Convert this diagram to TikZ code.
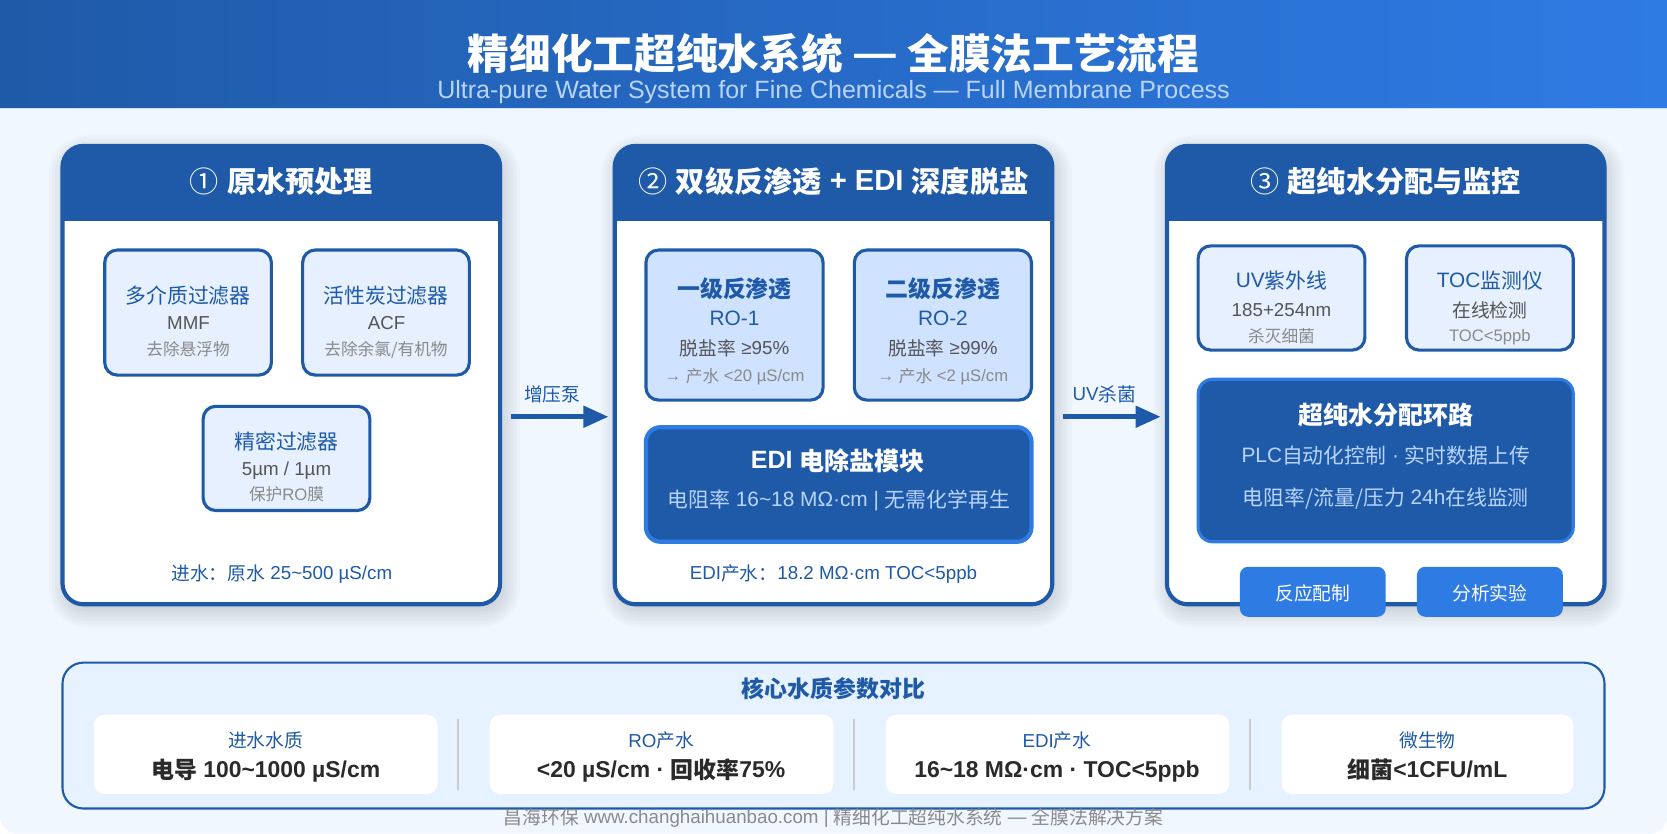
\documentclass[tikz,border=0pt]{standalone}
\usepackage{fontspec}
\setmainfont{Liberation Sans}
\newfontfamily\cjk{Noto Sans CJK SC}
\newcommand{\zh}[1]{\raisebox{-0.05em}{\cjk #1}}
\newcommand{\fs}[1]{\fontsize{#1}{#1}\selectfont}
\usetikzlibrary{arrows.meta}
\definecolor{navy}{HTML}{1F5AA8}
\definecolor{accent}{HTML}{2E7BE4}
\definecolor{pagebg}{HTML}{F0F7FF}
\definecolor{filterbg}{HTML}{E6F0FF}
\definecolor{robg}{HTML}{CFE2FF}
\definecolor{panelbg}{HTML}{E6F2FF}
\definecolor{pale}{HTML}{B8D4FF}
\definecolor{midtext}{HTML}{555555}
\definecolor{notetext}{HTML}{8A8A8A}
\definecolor{darktext}{HTML}{2A2A2A}
\tikzset{
%%%%%%%%%%  Box styles
card/.style={draw=navy,fill=white,line width=4pt,rounded corners=20pt,inner sep=0pt},
filterbox/.style={draw=navy,fill=filterbg,line width=3pt,rounded corners=12pt,inner sep=0pt},
robox/.style={filterbox,fill=robg},
darkbox/.style={draw=accent,fill=navy,line width=#1,rounded corners=14pt,inner sep=0pt},
darkbox/.default=4pt,
userbox/.style={fill=accent,rounded corners=8pt,inner sep=0pt,minimum width=140pt,minimum height=48pt},
cell/.style={fill=white,rounded corners=10pt,inner sep=0pt,minimum height=76pt},
%%%%%%%%%%  Text styles, all set on the baseline
txt/.style={anchor=base,inner sep=0pt,outer sep=0pt},
cardtitle/.style={txt,text=white,font=\fs{28}\bfseries},
boxhead/.style={txt,text=navy,font=\fs{20}},
robold/.style={txt,text=navy,font=\fs{22}\bfseries},
boxmid/.style={txt,text=midtext,font=\fs{18}},
boxnote/.style={txt,text=notetext,font=\fs{16}},
bluetxt/.style={txt,text=navy,font=\fs{18}},
darkhead/.style={txt,text=white,font=\fs{24}\bfseries},
darksub/.style={txt,text=pale,font=\fs{20}},
cellval/.style={txt,text=darktext,font=\fs{22}\bfseries},
%%%%%%%%%%  Lines
flow/.style={draw=navy,line width=5pt,-{Triangle[length=24pt,width=20pt]}},
divider/.style={draw=black!20,line width=2pt}
}
%% soft shadow under a card, x1 y1 x2 y2
\newcommand{\softshadow}[4]{
\foreach \w in {-2,1,4,7,10,13,16} {
\pgfmathsetmacro{\r}{20+max(\w,0)}
\fill[black,opacity=0.02,rounded corners=\r pt]
  ({#1+3-\w},{#2+6-\w}) rectangle ({#3+3+\w},{#4+6+\w});
}
}
%% blue band on top of a card, x1 x2
\newcommand{\cardband}[2]{
\fill[navy,rounded corners=20pt] (#1,140) rectangle (#2,212);
\fill[navy] (#1,180) rectangle (#2,212);
}
%% circled number, lighter than the title round it
\newcommand{\stepnum}[1]{\raisebox{-0.07em}{\cjk\mdseries #1}}

\begin{document}
\begin{tikzpicture}[x=1pt,y=-1pt]
\useasboundingbox (0,0) rectangle (1600,800);
\fill[pagebg,rounded corners=16pt] (0,0) rectangle (1600,800);
\path[left color=navy,right color=accent] (0,0) rectangle (1600,104);
\draw[pale!70!white,line width=1pt] (0,104) -- (1600,104);
\node[txt,text=white,font=\fs{40}\bfseries] (title) at (800,65) {\zh{精细化工超纯水系统} — \zh{全膜法工艺流程}};
\node[txt,text=pale,font=\fs{24}] (subtitle) at (800,95) {Ultra-pure Water System for Fine Chemicals — Full Membrane Process};
%%%%%%%%%%%%%%%%%%%%%%%%%%%%%%%%%%%%%%%%%%%%%%
%% card 1
\softshadow{60}{140}{480}{580}
\node[card,minimum width=420pt,minimum height=440pt] (card1) at (270,360) {};
\cardband{60}{480}
\node[cardtitle] (title1) at (270,183) {\stepnum{①} \zh{原水预处理}};
\node[filterbox,minimum width=160pt,minimum height=120pt] (mmf) at (180.5,300) {};
\node[boxhead] (mmf_a) at (180.5,290) {\zh{多介质过滤器}};
\node[boxmid] (mmf_b) at (181,316) {MMF};
\node[boxnote] (mmf_c) at (180.5,340) {\zh{去除悬浮物}};
\node[filterbox,minimum width=160pt,minimum height=120pt] (acf) at (370.5,300) {};
\node[boxhead] (acf_a) at (370.5,290) {\zh{活性炭过滤器}};
\node[boxmid] (acf_b) at (371,316) {ACF};
\node[boxnote] (acf_c) at (370.5,340) {\zh{去除余氯/有机物}};
\node[filterbox,minimum width=160pt,minimum height=100pt] (fine) at (275,440) {};
\node[boxhead] (fine_a) at (275,430) {\zh{精密过滤器}};
\node[boxmid] (fine_b) at (275,456) {5µm / 1µm};
\node[boxnote] (fine_c) at (275,480) {\zh{保护}RO\zh{膜}};
\node[bluetxt] (feed) at (270.5,556) {\zh{进水：原水} 25\textasciitilde 500 µS/cm};
%%%%%%%%%%%%%%%%%%%%%%%%%%%%%%%%%%%%%%%%%%%%%%
%% arrow 1
\coordinate (pump_out) at (490,400);
\coordinate (pump_in) at (584,400);
\draw[flow] (pump_out) -- (pump_in);
\node[bluetxt] (pump) at (530,384) {\zh{增压泵}};
%%%%%%%%%%%%%%%%%%%%%%%%%%%%%%%%%%%%%%%%%%%%%%
%% card 2
\softshadow{590}{140}{1010}{580}
\node[card,minimum width=420pt,minimum height=440pt] (card2) at (800,360) {};
\cardband{590}{1010}
\node[cardtitle] (title2) at (800,183) {\stepnum{②} \zh{双级反渗透} + EDI \zh{深度脱盐}};
\node[robox,minimum width=170pt,minimum height=144pt] (ro1) at (705,312) {};
\node[robold] (ro1_a) at (705,284) {\zh{一级反渗透}};
\node[boxhead] (ro1_b) at (705,312) {RO-1};
\node[boxmid] (ro1_c) at (705,340) {\zh{脱盐率} ≥95\%};
\node[boxnote] (ro1_d) at (705,366) {→ \zh{产水} <20 µS/cm};
\node[robox,minimum width=170pt,minimum height=144pt] (ro2) at (905,312) {};
\node[robold] (ro2_a) at (905,284) {\zh{二级反渗透}};
\node[boxhead] (ro2_b) at (905,312) {RO-2};
\node[boxmid] (ro2_c) at (905,340) {\zh{脱盐率} ≥99\%};
\node[boxnote] (ro2_d) at (905,366) {→ \zh{产水} <2 µS/cm};
\node[darkbox,minimum width=370pt,minimum height=110pt] (edi) at (805,465) {};
\node[darkhead] (edi_a) at (804,450) {EDI \zh{电除盐模块}};
\node[darksub] (edi_b) at (805,486) {\zh{电阻率} 16\textasciitilde 18 MΩ·cm | \zh{无需化学再生}};
\node[bluetxt] (edi_out) at (800,556) {EDI\zh{产水：}18.2 MΩ·cm TOC<5ppb};
%%%%%%%%%%%%%%%%%%%%%%%%%%%%%%%%%%%%%%%%%%%%%%
%% arrow 2
\coordinate (uv_out) at (1020,400);
\coordinate (uv_in) at (1114,400);
\draw[flow] (uv_out) -- (uv_in);
\node[bluetxt] (uv_kill) at (1060,384) {UV\zh{杀菌}};
%%%%%%%%%%%%%%%%%%%%%%%%%%%%%%%%%%%%%%%%%%%%%%
%% card 3
\softshadow{1120}{140}{1540}{580}
\node[card,minimum width=420pt,minimum height=440pt] (card3) at (1330,360) {};
\cardband{1120}{1540}
\node[cardtitle] (title3) at (1330,183) {\stepnum{③} \zh{超纯水分配与监控}};
\node[filterbox,minimum width=160pt,minimum height=100pt] (uv) at (1230,286) {};
\node[boxhead] (uv_a) at (1230,276) {UV\zh{紫外线}};
\node[boxmid] (uv_b) at (1230,304) {185+254nm};
\node[boxnote] (uv_c) at (1230,328) {\zh{杀灭细菌}};
\node[filterbox,minimum width=160pt,minimum height=100pt] (toc) at (1430,286) {};
\node[boxhead] (toc_a) at (1430,276) {TOC\zh{监测仪}};
\node[boxmid] (toc_b) at (1430,304) {\zh{在线检测}};
\node[boxnote] (toc_c) at (1430,328) {TOC<5ppb};
\node[darkbox=3pt,minimum width=360pt,minimum height=156pt] (loop) at (1330,442) {};
\node[darkhead] (loop_a) at (1330,406) {\zh{超纯水分配环路}};
\node[darksub] (loop_b) at (1330,444) {PLC\zh{自动化控制} · \zh{实时数据上传}};
\node[darksub] (loop_c) at (1330,484) {\zh{电阻率/流量/压力} 24h\zh{在线监测}};
\node[userbox] (use1) at (1260,568) {};
\node[txt,text=white,font=\fs{18}] (use1_t) at (1260,575) {\zh{反应配制}};
\node[userbox] (use2) at (1430,568) {};
\node[txt,text=white,font=\fs{18}] (use2_t) at (1430,575) {\zh{分析实验}};
%%%%%%%%%%%%%%%%%%%%%%%%%%%%%%%%%%%%%%%%%%%%%%
%% bottom panel
\node[draw=navy,fill=panelbg,line width=2pt,rounded corners=20pt,inner sep=0pt,minimum width=1480pt,minimum height=140pt] (panel) at (800,706) {};
\node[robold] (panel_t) at (800,668) {\zh{核心水质参数对比}};
\node[cell,minimum width=330pt] (cell1) at (255,724) {};
\node[bluetxt] (cell1_a) at (255,717) {\zh{进水水质}};
\node[cellval] (cell1_b) at (255,746) {\zh{电导} 100\textasciitilde 1000 µS/cm};
\node[cell,minimum width=330pt] (cell2) at (635,724) {};
\node[bluetxt] (cell2_a) at (634.5,717) {RO\zh{产水}};
\node[cellval] (cell2_b) at (634.5,746) {<20 µS/cm · \zh{回收率}75\%};
\node[cell,minimum width=330pt] (cell3) at (1015,724) {};
\node[bluetxt] (cell3_a) at (1014.5,717) {EDI\zh{产水}};
\node[cellval] (cell3_b) at (1014.5,746) {16\textasciitilde 18 MΩ·cm · TOC<5ppb};
\node[cell,minimum width=280pt] (cell4) at (1370,724) {};
\node[bluetxt] (cell4_a) at (1370,717) {\zh{微生物}};
\node[cellval] (cell4_b) at (1370,746) {\zh{细菌}<1CFU/mL};
\foreach \x in {440,820,1200}
  \draw[divider] (\x,690) -- (\x,758);
%% footer
\node[txt,text=notetext,font=\fs{18}] (footer) at (800,790) {\zh{昌海环保} www.changhaihuanbao.com | \zh{精细化工超纯水系统} — \zh{全膜法解决方案}};
\end{tikzpicture}
\end{document}
